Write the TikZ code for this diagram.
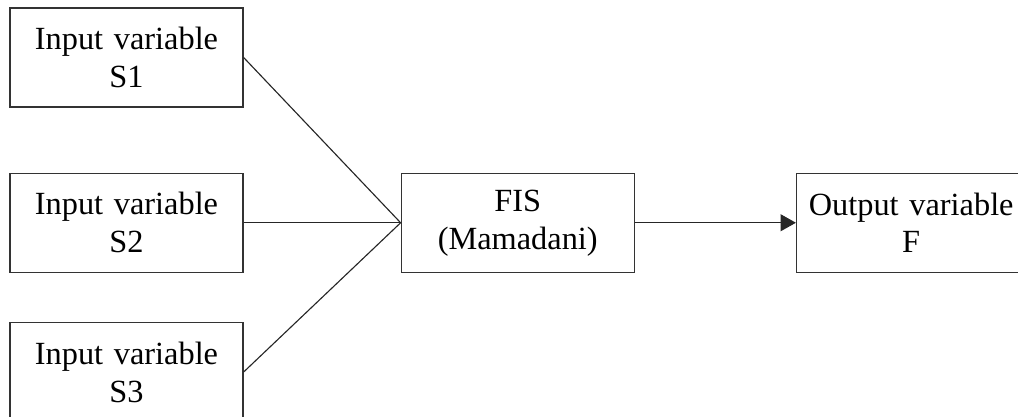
\documentclass[tikz,border=0pt]{standalone}
\usepackage{fontspec}
\setmainfont{Liberation Serif}
\usetikzlibrary{positioning,arrows.meta}

\begin{document}
\begin{tikzpicture}[node distance=1.5cm]
    % Define styles
    \tikzstyle{varbox} = [rectangle, draw=black!80, line width=0.9pt, minimum width=5.825cm, minimum height=2.475cm, text width=5.5cm, align=center, font=\fontsize{23}{27}\selectfont]
    \tikzstyle{line} = [line width=0.8pt, black!85]
    \tikzstyle{arrow} = [line, -{Triangle[length=0.38cm,width=0.42cm]}]

    \useasboundingbox (0,0) rectangle (25.45,-10.425);

    % Inputs
    \node[varbox] (s1) at (3.1625,-1.4375) {Input variable\\S1};
    \node[varbox, below=1.625cm of s1] (s2) {Input variable\\S2};
    \node[varbox, below=1.225cm of s2] (s3) {Input variable\\S3};
    % FIS and output
    \node[varbox, right=3.925cm of s2] (fis) {FIS\\(Mamadani)};
    \node[varbox, minimum width=5.575cm, right=4.025cm of fis] (out) {Output variable\\F};

    % Arrows
    \draw[line] (s1.east) -- (fis.west);
    \draw[line] (s2.east) -- (fis.west);
    \draw[line] (s3.east) -- (fis.west);
    \draw[arrow] (fis) -- (out);

\end{tikzpicture}
\end{document}
